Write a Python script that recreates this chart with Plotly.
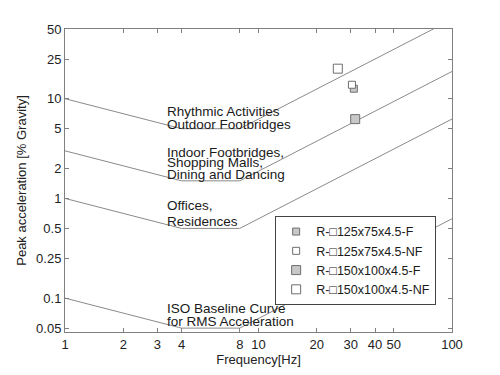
import plotly.graph_objects as go

# ---- data ----
curve_freq = [1, 4, 8, 100]
rhythmic_accel = [10, 5, 5, 62.5]
indoor_accel = [3, 1.5, 1.5, 18.75]
offices_accel = [1, 0.5, 0.5, 6.25]
iso_accel = [0.1, 0.05, 0.05, 0.625]

series_names = ["R-\u25a1125x75x4.5-F", "R-\u25a1125x75x4.5-NF",
                "R-\u25a1150x100x4.5-F", "R-\u25a1150x100x4.5-NF"]
series_freq = [[31.1], [30.4], [31.6], [25.7]]
series_accel = [[12.6], [13.8], [6.24], [20.0]]

x_tickvals = [1, 2, 3, 4, 8, 10, 20, 30, 40, 50, 100]
x_ticktext = ["1", "2", "3", "4", "8", "10", "20", "30", "40", "50", "100"]
y_tickvals = [0.05, 0.1, 0.25, 0.5, 1, 2, 5, 10, 25, 50]
y_ticktext = ["0.05", "0.1", "0.25", "0.5", "1", "2", "5", "10", "25", "50"]

label_lines = ["Rhythmic Activities", "Outdoor Footbridges",
               "Indoor Footbridges,", "Shopping Malls,", "Dining and Dancing",
               "Offices,", "Residences",
               "ISO Baseline Curve", "for RMS Acceleration"]
label_paper_y = [0.729, 0.686, 0.594, 0.558, 0.521, 0.416, 0.366, 0.079, 0.036]

# ---- styles ----
FONT = "Liberation Sans, Arial, sans-serif"
LINE_COLOR = "#8a8a8a"
AXIS_COLOR = "#808080"
marker_styles = [
    dict(size=7, color="#c8c8c8", line=dict(color="#6e6e6e", width=1)),
    dict(size=7, color="white", line=dict(color="#6e6e6e", width=1)),
    dict(size=9, color="#c8c8c8", line=dict(color="#6e6e6e", width=1)),
    dict(size=9, color="white", line=dict(color="#6e6e6e", width=1)),
]

fig = go.Figure()
for ys in [rhythmic_accel, indoor_accel, offices_accel, iso_accel]:
    fig.add_trace(go.Scatter(x=curve_freq, y=ys, mode="lines",
                             line=dict(color=LINE_COLOR, width=1),
                             showlegend=False, hoverinfo="skip"))

for name, fx, ay, ms in zip(series_names, series_freq, series_accel, marker_styles):
    fig.add_trace(go.Scatter(x=fx, y=ay, mode="markers", name=name,
                             marker=dict(symbol="square", **ms)))

for txt, py in zip(label_lines, label_paper_y):
    fig.add_annotation(text=txt, xref="paper", yref="paper", x=0.258, y=py,
                       xanchor="left", yanchor="middle", showarrow=False,
                       font=dict(family=FONT, size=13.5, color="#1a1a1a"))

fig.update_xaxes(type="log", range=[0, 2], tickvals=x_tickvals, ticktext=x_ticktext,
                 ticks="inside", ticklen=4, tickcolor=AXIS_COLOR,
                 showline=True, linecolor=AXIS_COLOR, linewidth=1, mirror="ticks",
                 showgrid=False, zeroline=False,
                 tickfont=dict(family=FONT, size=13, color="#222"),
                 title=dict(text="Frequency[Hz]", standoff=4,
                            font=dict(family=FONT, size=13, color="#222")))
fig.update_yaxes(type="log", range=[-1.340, 1.699], tickvals=y_tickvals, ticktext=y_ticktext,
                 ticks="inside", ticklen=4, tickcolor=AXIS_COLOR,
                 showline=True, linecolor=AXIS_COLOR, linewidth=1, mirror="ticks",
                 showgrid=False, zeroline=False,
                 tickfont=dict(family=FONT, size=13, color="#222"),
                 title=dict(text="Peak acceleration [% Gravity]", standoff=6,
                            font=dict(family=FONT, size=13, color="#222")))

fig.update_layout(
    width=500, height=375,
    margin=dict(l=57, r=56, t=21, b=51),
    paper_bgcolor="white", plot_bgcolor="white",
    font=dict(family=FONT, color="#222"),
    legend=dict(x=0.543, y=0.383, xanchor="left", yanchor="top",
                bgcolor="white", bordercolor="#444", borderwidth=1,
                font=dict(family=FONT, size=12.5, color="#1a1a1a"),
                tracegroupgap=0, itemwidth=30),
)

fig.write_html("out.html")
